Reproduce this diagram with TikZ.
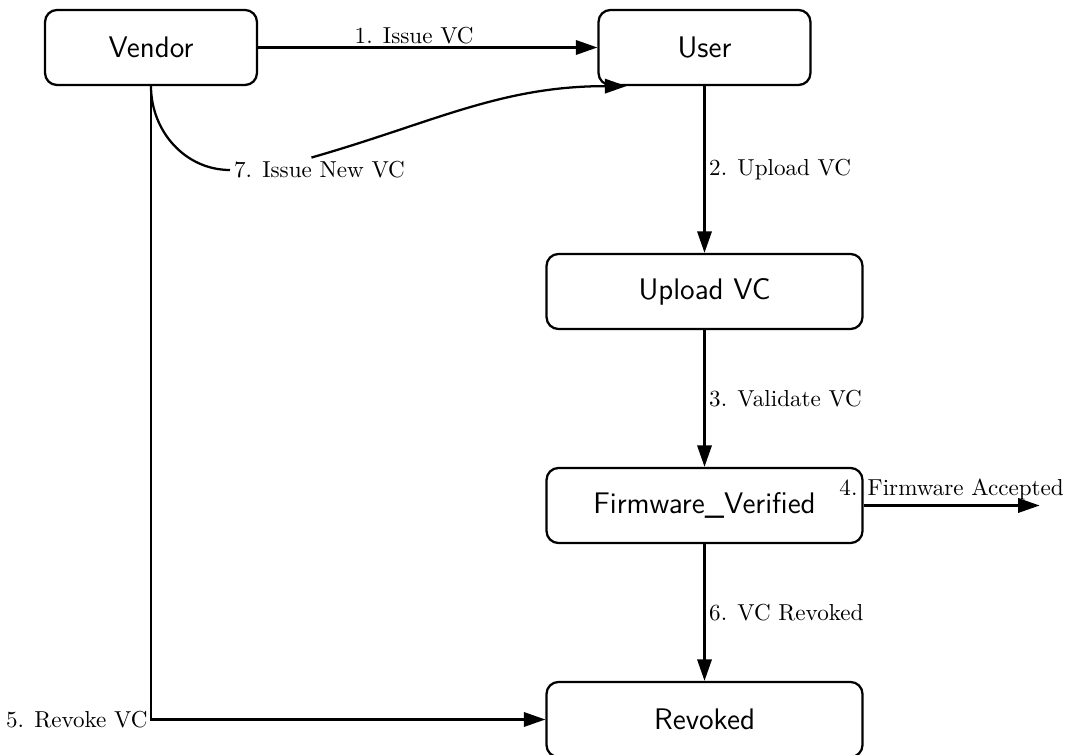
\documentclass[tikz,border=0pt]{standalone}
\usetikzlibrary{arrows.meta,calc}

\tikzset{
  state/.style={draw, line width=0.95pt, rounded corners=5pt, inner sep=0pt,
                minimum height=31.5pt, font=\sffamily\fontsize{12.5}{15}\selectfont},
  narrow/.style={state, minimum width=89pt},
  wide/.style={state, minimum width=132.7pt},
  flow/.style={line width=0.95pt, -{Triangle[length=9pt,width=6pt]}},
  plain/.style={line width=0.95pt},
  lbl/.style={font=\fontsize{9.7}{12}\selectfont, inner sep=1.5pt}
}

\begin{document}
\begin{tikzpicture}[x=0.42pt, y=-0.42pt]
  \clip (0,0) rectangle (1068,755);
  \useasboundingbox (0,0) rectangle (1068,755);

  % states
  \node[narrow] (vendor)   at (151,47.5)    {Vendor};
  \node[narrow] (user)     at (704.5,47.5)  {User};
  \node[wide]   (upload)   at (704.5,291.5) {Upload VC};
  \node[wide]   (firmware) at (704.5,505.5) {Firmware\_Verified};
  \node[wide]   (revoked)  at (704.5,719.5) {Revoked};

  % helper points
  \coordinate (corner) at (vendor.south |- revoked.west);
  \coordinate (accept) at ($(firmware.east)+(176,0)$);
  \coordinate (newvc)  at ($(user.south west)+(29,0)$);

  % transitions
  \draw[flow] (vendor.east) -- node[lbl, pos=0.46, above, inner sep=1pt] {1. Issue VC} (user.west);
  \draw[flow] (user.south) -- node[lbl, right] {2. Upload VC} (upload.north);
  \draw[flow] (upload.south) -- node[lbl, right] {3. Validate VC} (firmware.north);
  \draw[flow] (firmware.east) -- node[lbl, midway, above, inner sep=2pt] {4. Firmware Accepted} (accept);
  \draw[flow] (vendor.south) -- (corner) node[lbl, left, inner sep=1pt] {5. Revoke VC} -- (revoked.west);
  \draw[flow] (firmware.south) -- node[lbl, right] {6. VC Revoked} (revoked.north);

  % re-issue of a credential
  \node[lbl, anchor=west] (lab7) at (230,170) {7. Issue New VC};
  \draw[plain] (vendor.south) to[out=-90, in=180] (lab7.west);
  \draw[flow] ($(lab7.north)+(-8,0)$) to[out=16, in=180] (newvc);
\end{tikzpicture}
\end{document}
